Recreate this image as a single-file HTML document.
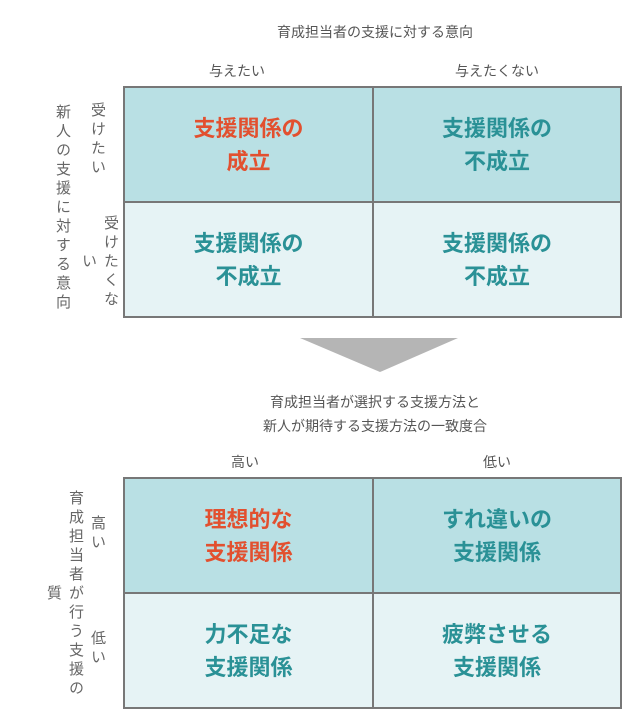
<!DOCTYPE html>
<html><head><meta charset="utf-8"><style>
body{margin:0;width:640px;height:725px;background:#fff;position:relative;font-family:"Liberation Sans","Noto Sans CJK JP",sans-serif;color:#555;overflow:hidden}
.t{position:absolute;font-size:14px;white-space:nowrap;transform:translateX(-50%)}
.grid{position:absolute;left:123px;width:499px;height:232px;border:2px solid #777;box-sizing:border-box}
.c{position:absolute;display:flex;align-items:center;justify-content:center;text-align:center;font-weight:bold;font-size:22px;line-height:33px;color:#2a9196;box-sizing:border-box}
.d{background:#b9e0e4}.l{background:#e6f3f5}
.r{color:#e2502f}
.v{position:absolute;writing-mode:vertical-rl;font-size:15px;line-height:22px;letter-spacing:4px;color:#666;text-align:center}
</style></head><body>
<div class="t" style="left:375px;top:22px">育成担当者の支援に対する意向</div>
<div class="t" style="left:237px;top:61px">与えたい</div>
<div class="t" style="left:497px;top:61px">与えたくない</div>
<div class="grid" style="top:86px">
<div class="c d r" style="left:0;top:0;width:249px;height:115px;border-right:2px solid #777;border-bottom:2px solid #777">支援関係の<br>成立</div>
<div class="c d" style="left:249px;top:0;width:246px;height:115px;border-bottom:2px solid #777">支援関係の<br>不成立</div>
<div class="c l" style="left:0;top:115px;width:249px;height:113px;border-right:2px solid #777">支援関係の<br>不成立</div>
<div class="c l" style="left:249px;top:115px;width:246px;height:113px">支援関係の<br>不成立</div>
</div>
<div class="v" style="left:51px;top:100px;height:216px">新人の支援に対する意向</div>
<div class="v" style="left:86px;top:102px;height:100px;text-align:left">受けたい</div>
<div class="v" style="left:77px;top:212px;height:100px">受けたくない</div>
<svg style="position:absolute;left:0;top:0" width="640" height="725"><polygon points="300,338 458,338 380,372" fill="#b5b5b5"/></svg>
<div class="t" style="left:375px;top:392px">育成担当者が選択する支援方法と</div>
<div class="t" style="left:375px;top:416px">新人が期待する支援方法の一致度合</div>
<div class="t" style="left:245px;top:452px">高い</div>
<div class="t" style="left:497px;top:452px">低い</div>
<div class="grid" style="top:477px">
<div class="c d r" style="left:0;top:0;width:249px;height:115px;border-right:2px solid #777;border-bottom:2px solid #777">理想的な<br>支援関係</div>
<div class="c d" style="left:249px;top:0;width:246px;height:115px;border-bottom:2px solid #777">すれ違いの<br>支援関係</div>
<div class="c l" style="left:0;top:115px;width:249px;height:113px;border-right:2px solid #777">力不足な<br>支援関係</div>
<div class="c l" style="left:249px;top:115px;width:246px;height:113px">疲弊させる<br>支援関係</div>
</div>
<div class="v" style="left:42px;top:487px;height:214px">育成担当者が行う支援の質</div>
<div class="v" style="left:86px;top:515px;text-align:left">高い</div>
<div class="v" style="left:86px;top:630px;text-align:left">低い</div>
</body></html>
